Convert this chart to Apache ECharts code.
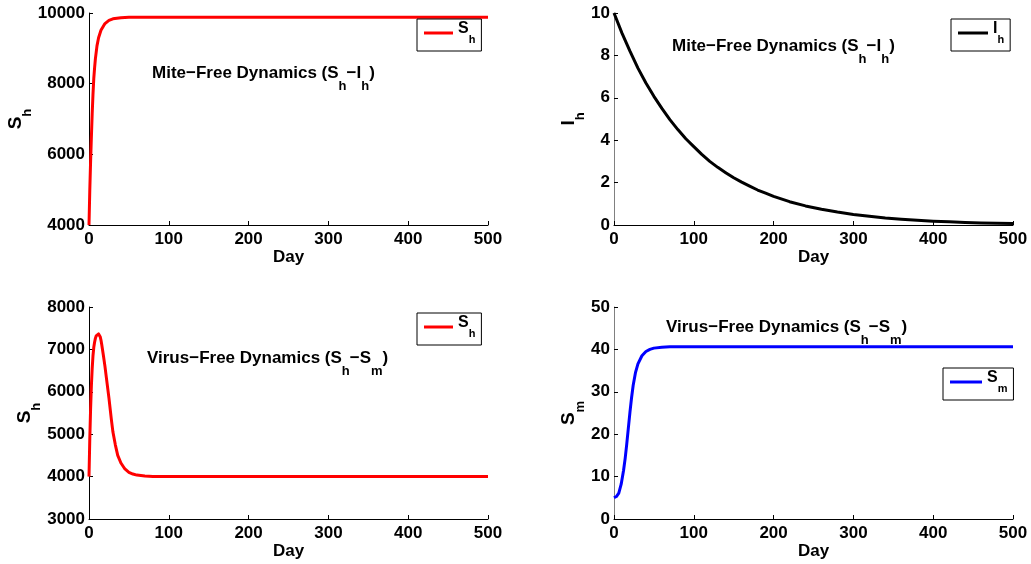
<!DOCTYPE html>
<html>
<head>
<meta charset="utf-8">
<script src="https://cdn.jsdelivr.net/npm/echarts@6/dist/echarts.min.js"></script>
<style>
  html, body { margin: 0; padding: 0; background: #fff; }
  #main { width: 1031px; height: 564px; }
</style>
</head>
<body>
<div id="main"></div>
<script>
// mite-free dynamics, S_h (top left)
var shDaysMF = [0, 1, 2, 3, 4, 5, 6, 7, 8, 10, 12, 15, 20, 25, 30, 40, 50, 60, 100, 200, 300, 400, 500];
var shValsMF = [4000, 5000, 5800, 6500, 7150, 7700, 8150, 8450, 8700, 9070, 9300, 9510, 9700, 9790, 9835, 9865, 9878, 9880, 9880, 9880, 9880, 9880, 9880];

// mite-free dynamics, I_h (top right)
var ihDays = [0, 10, 20, 30, 40, 50, 60, 70, 80, 90, 100, 110, 120, 130, 140, 150, 160, 170, 180, 190, 200,
              220, 240, 260, 280, 300, 320, 340, 360, 380, 400, 420, 440, 460, 480, 500];
var ihVals = [10, 9.05, 8.2, 7.4, 6.7, 6.07, 5.5, 4.97, 4.5, 4.07, 3.7, 3.33, 3.0, 2.72, 2.47, 2.23, 2.02, 1.83, 1.65, 1.5, 1.35,
              1.1, 0.9, 0.74, 0.61, 0.5, 0.41, 0.33, 0.27, 0.22, 0.18, 0.15, 0.12, 0.1, 0.08, 0.07];

// virus-free dynamics, S_h (bottom left)
var shDaysVF = [0, 1, 2, 3, 4, 5, 6, 7, 8, 9, 10, 11, 12, 13, 14, 15, 16, 18, 20, 22, 25, 28, 30, 33, 36, 40, 45, 50, 55, 60, 70, 80, 100, 200, 300, 400, 500];
var shValsVF = [4000, 4900, 5600, 6150, 6550, 6850, 7050, 7170, 7260, 7320, 7350, 7365, 7365, 7345, 7300, 7220, 7110, 6860, 6600, 6300, 5850, 5350, 5050, 4750, 4500, 4320, 4180, 4100, 4060, 4035, 4015, 4005, 4000, 4000, 4000, 4000, 4000];

// virus-free dynamics, S_m (bottom right)
var smDays = [0, 3, 6, 9, 12, 14, 16, 18, 20, 22, 24, 27, 30, 35, 40, 45, 50, 60, 70, 100, 200, 300, 400, 500];
var smVals = [5, 5.3, 6.1, 8.2, 11.5, 14.3, 17.7, 21.5, 25.2, 28.6, 31.5, 34.6, 36.6, 38.5, 39.5, 40.0, 40.3, 40.5, 40.6, 40.6, 40.6, 40.6, 40.6, 40.6];

var FONT = 'Liberation Sans';

function pairs(xs, ys) {
    var out = [];
    for (var i = 0; i < xs.length; i++) {
        out.push([xs[i], ys[i]]);
    }
    return out;
}

// rich styles: a = normal text, b = subscript
function rich(big, small, drop) {
    return {
        a: { fontFamily: FONT, fontWeight: 'bold', fontSize: big, color: '#000', verticalAlign: 'top' },
        b: { fontFamily: FONT, fontWeight: 'bold', fontSize: small, color: '#000', verticalAlign: 'top', padding: [drop, 0, 0, 0] }
    };
}

function plain(v) {
    return String(v);
}

function xAxis(idx, gap) {
    return {
        type: 'value', gridIndex: idx, min: 0, max: 500, interval: 100,
        name: 'Day', nameLocation: 'middle', nameGap: gap,
        nameTextStyle: { fontFamily: FONT, fontWeight: 'bold', fontSize: 17, color: '#000' },
        axisLine: { lineStyle: { color: '#000', width: 1 } },
        axisTick: { inside: true, length: 4, lineStyle: { color: '#000' } },
        axisLabel: { fontFamily: FONT, fontWeight: 'bold', fontSize: 17, color: '#000', margin: 6, formatter: plain },
        splitLine: { show: false }
    };
}

function yAxis(idx, min, max, step, name, gap, lineColor) {
    return {
        type: 'value', gridIndex: idx, min: min, max: max, interval: step,
        name: name, nameLocation: 'middle', nameRotate: 90, nameGap: gap,
        nameTextStyle: { rich: rich(19, 13, 15) },
        axisLine: { show: true, lineStyle: { color: lineColor, width: 1 } },
        axisTick: { show: true, inside: true, length: 4, lineStyle: { color: '#000' } },
        axisLabel: { fontFamily: FONT, fontWeight: 'bold', fontSize: 17, color: '#000', margin: 4, formatter: plain },
        splitLine: { show: false }
    };
}

function legend(name, text, left, top, w) {
    return {
        data: [name], left: left, top: top, orient: 'horizontal',
        backgroundColor: '#fff', borderColor: '#000', borderWidth: 1,
        padding: [2, 6, 6, 7], itemWidth: w, itemHeight: 3, icon: 'rect', selectedMode: false,
        formatter: function () { return text; },
        textStyle: { rich: rich(16, 11, 13) }
    };
}

function title(text, left, top) {
    return {
        text: text, left: left, top: top, padding: 0,
        textStyle: { rich: rich(17, 13, 15) }
    };
}

function line(name, idx, xs, ys, color) {
    return {
        name: name, type: 'line', xAxisIndex: idx, yAxisIndex: idx,
        data: pairs(xs, ys), symbol: 'none', smooth: false,
        lineStyle: { color: color, width: 3, join: 'round' }, itemStyle: { color: color },
        animation: false
    };
}

var chart = echarts.init(document.getElementById('main'));

var option = {
    animation: false,
    backgroundColor: '#fff',
    textStyle: { fontFamily: FONT, fontWeight: 'bold' },
    title: [
        title('{a|Mite−Free Dynamics (S}{b|h}{a|−I}{b|h}{a|)}', 152, 65),
        title('{a|Mite−Free Dynamics (S}{b|h}{a|−I}{b|h}{a|)}', 672, 38),
        title('{a|Virus−Free Dynamics (S}{b|h}{a|−S}{b|m}{a|)}', 147, 350),
        title('{a|Virus−Free Dynamics (S}{b|h}{a|−S}{b|m}{a|)}', 666, 319)
    ],
    legend: [
        legend('Sh1', '{a|S}{b|h}', 417, 19, 29),
        legend('Ih', '{a|I}{b|h}', 951, 19, 30),
        legend('Sh2', '{a|S}{b|h}', 417, 313, 29),
        legend('Sm', '{a|S}{b|m}', 943, 368, 32)
    ],
    grid: [
        { left: 89, right: 543, top: 13, bottom: 339 },
        { left: 614, right: 18, top: 13, bottom: 339 },
        { left: 89, right: 543, top: 307, bottom: 45 },
        { left: 614, right: 18, top: 307, bottom: 45 }
    ],
    xAxis: [xAxis(0, 21), xAxis(1, 23), xAxis(2, 19), xAxis(3, 22)],
    yAxis: [
        yAxis(0, 4000, 10000, 2000, '{a|S}{b|h}', 55, '#000'),
        yAxis(1, 0, 10, 2, '{a|I}{b|h}', 23, '#808080'),
        yAxis(2, 3000, 8000, 1000, '{a|S}{b|h}', 44, '#000'),
        yAxis(3, 0, 50, 10, '{a|S}{b|m}', 23, '#808080')
    ],
    series: [
        line('Sh1', 0, shDaysMF, shValsMF, '#ff0000'),
        line('Ih', 1, ihDays, ihVals, '#000000'),
        line('Sh2', 2, shDaysVF, shValsVF, '#ff0000'),
        line('Sm', 3, smDays, smVals, '#0000ff')
    ]
};

chart.setOption(option);
</script>
</body>
</html>
